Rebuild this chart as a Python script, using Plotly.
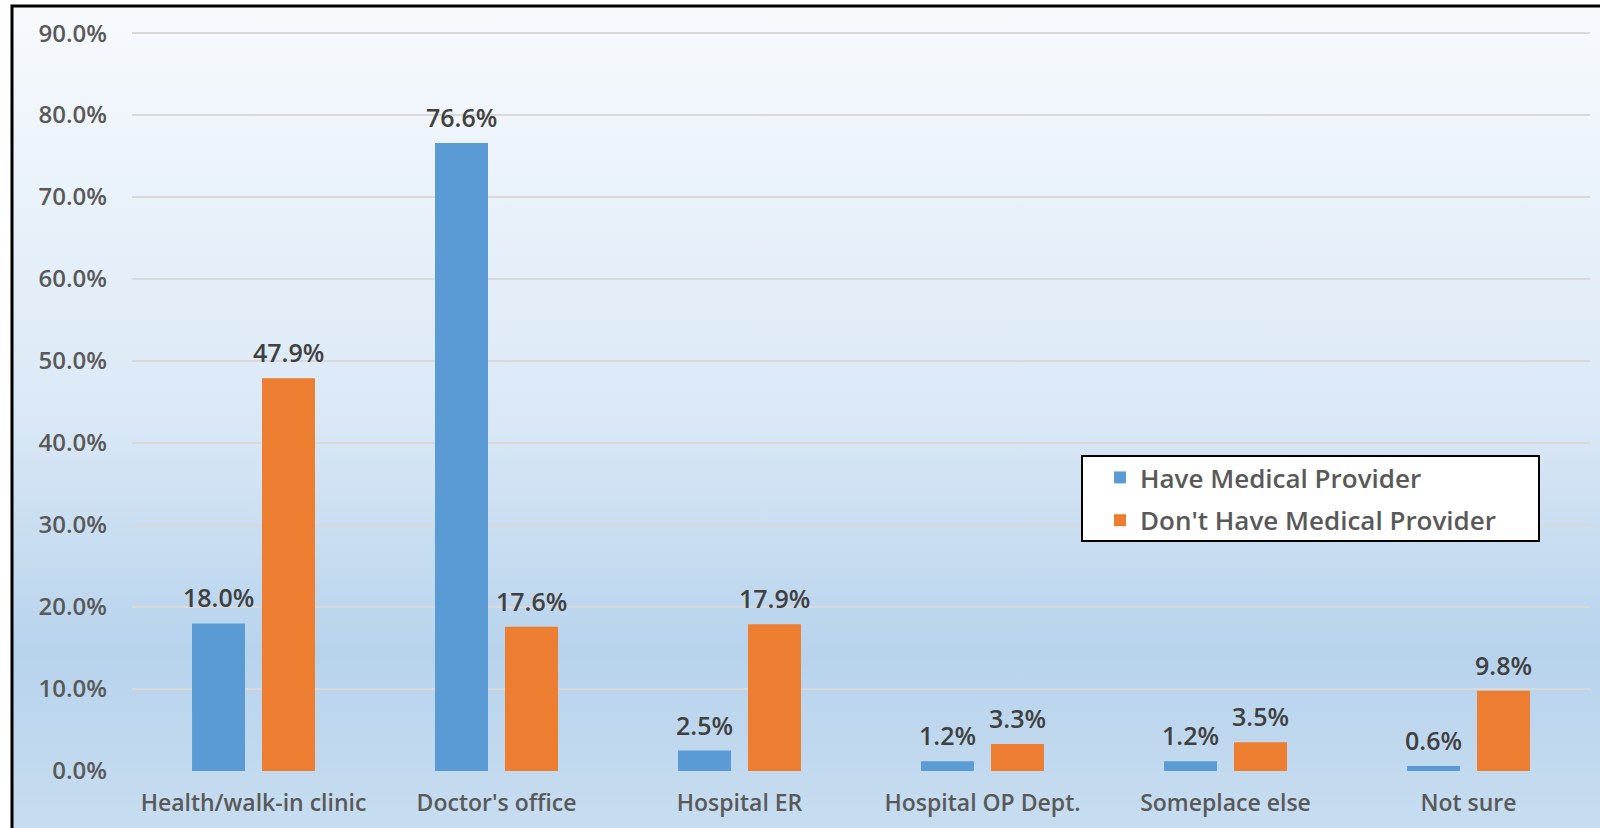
import plotly.graph_objects as go
import urllib.parse

categories = ["Health/walk-in clinic", "Doctor's office", "Hospital ER",
              "Hospital OP Dept.", "Someplace else", "Not sure"]
have_provider = [18.0, 76.6, 2.5, 1.2, 1.2, 0.6]
no_provider = [47.9, 17.6, 17.9, 3.3, 3.5, 9.8]
series_names = ["Have Medical Provider", "Don't Have Medical Provider"]
y_ticks = [0, 10, 20, 30, 40, 50, 60, 70, 80, 90]

W, H = 1600, 828
L, R, T, B = 132, 10, 29, 57
pw, ph = W - L - R, H - T - B

BAR_GAP, GROUP_GAP = 0.424, 0.243
cat_w = pw / len(categories)
slot = cat_w * (1 - BAR_GAP) / 2
bar_shift = slot / 2  # pixel distance from category centre to each bar centre

svg = f'''<svg xmlns="http://www.w3.org/2000/svg" width="{W}" height="{H}" viewBox="0 0 {W} {H}" preserveAspectRatio="none">
<defs><linearGradient id="g" x1="0" y1="0" x2="0" y2="1">
<stop offset="0" stop-color="#f7fafd"/>
<stop offset="0.5" stop-color="#dae8f6"/>
<stop offset="0.78" stop-color="#b7d3ec"/>
<stop offset="1" stop-color="#c8ddf0"/>
</linearGradient></defs>
<rect x="0" y="0" width="{W}" height="{H}" fill="#ffffff"/>
<rect x="12" y="6" width="{W}" height="{H}" fill="url(#g)" stroke="#000000" stroke-width="3"/>
</svg>'''
src = "data:image/svg+xml;charset=utf-8," + urllib.parse.quote(svg)

FONT = "Open Sans, Liberation Sans, Arial, sans-serif"

def px_x(p):
    return (p - L) / pw

def px_y(p):
    return 1 - (p - T) / ph

fig = go.Figure()
fig.add_trace(go.Bar(
    x=categories, y=have_provider, name=series_names[0], legendgroup="g1",
    marker=dict(color="#5b9bd5", line=dict(width=0)),
))
fig.add_trace(go.Bar(
    x=categories, y=no_provider, name=series_names[1], legendgroup="g2",
    marker=dict(color="#ed7d31", line=dict(width=0)),
))

annotations = []
for vals, sgn in ((have_provider, -1), (no_provider, 1)):
    for c, v in zip(categories, vals):
        annotations.append(dict(
            x=c, y=v, xref="x", yref="y", text=f"{v:.1f}%",
            showarrow=False, xanchor="center", yanchor="bottom",
            xshift=sgn * bar_shift, yshift=7,
            font=dict(family=FONT, size=25, color="#404040", weight=600),
        ))

fig.update_layout(
    width=W, height=H,
    margin=dict(l=L, r=R, t=T, b=B, pad=0),
    paper_bgcolor="rgba(0,0,0,0)",
    plot_bgcolor="rgba(0,0,0,0)",
    barmode="group",
    bargap=BAR_GAP,
    bargroupgap=GROUP_GAP,
    showlegend=True,
    legend=dict(
        x=px_x(1100), y=px_y(454), xanchor="left", yanchor="top",
        bgcolor="rgba(0,0,0,0)", borderwidth=0,
        font=dict(family=FONT, size=26, color="#595959", weight=600),
        itemwidth=30, tracegroupgap=6, traceorder="grouped",
    ),
    shapes=[dict(
        type="rect", xref="paper", yref="paper",
        x0=px_x(1082), x1=px_x(1539), y0=px_y(456), y1=px_y(541),
        fillcolor="#ffffff", line=dict(color="#000000", width=2), layer="above",
    )],
    annotations=annotations,
    images=[dict(
        source=src, xref="paper", yref="paper",
        x=-L / pw, y=1 + T / ph, sizex=W / pw, sizey=H / ph,
        xanchor="left", yanchor="top", sizing="stretch", layer="below",
    )],
)
fig.update_xaxes(
    automargin=False,
    showgrid=False, zeroline=False, showline=False, ticks="",
    tickfont=dict(family=FONT, size=23, color="#595959", weight=600),
    ticklabelstandoff=16,
)
fig.update_yaxes(
    automargin=False,
    range=[0, 90.5], tickvals=y_ticks,
    ticktext=[f"{v:.1f}%" for v in y_ticks],
    showgrid=True, gridcolor="#d9d9d9", gridwidth=1.5,
    zeroline=False, showline=False, ticks="",
    tickfont=dict(family=FONT, size=24, color="#595959", weight=600),
    ticklabelstandoff=24,
)

fig.write_html(
    "out.html",
    config={"displayModeBar": False},
    post_script="document.body.style.margin='0';document.body.style.overflow='hidden';",
)
